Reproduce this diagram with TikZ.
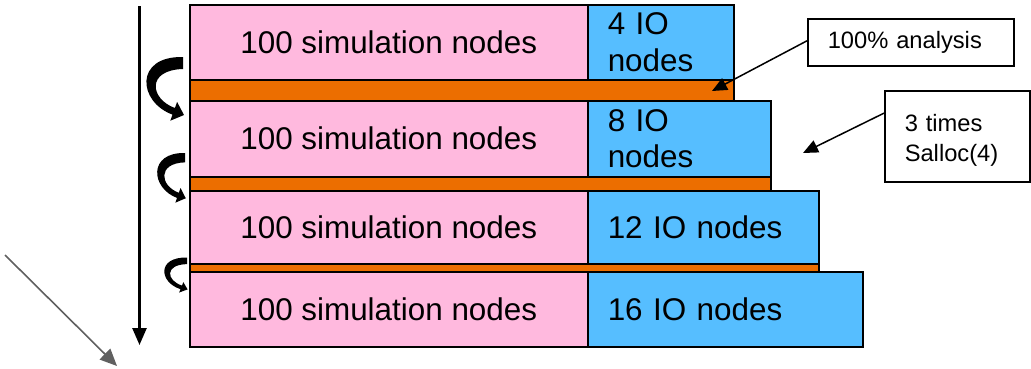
\documentclass[tikz,border=0pt]{standalone}
\usepackage{fontspec}
\setmainfont{Liberation Sans}
\usetikzlibrary{arrows.meta,calc}
\definecolor{simpink}{RGB}{255,185,222}
\definecolor{ioblue}{RGB}{86,190,255}
\definecolor{barorange}{RGB}{236,110,0}
\definecolor{arrowgray}{RGB}{96,96,96}
\begin{document}
\begin{tikzpicture}[x=1pt,y=-1pt,
  sim/.style={draw=black,line width=1.5pt,fill=simpink,anchor=north west,
    minimum width=398pt,minimum height=#1,inner sep=0pt,
    font=\fontsize{31.4}{36.5}\selectfont},
  io/.style={draw=black,line width=1.5pt,fill=ioblue,anchor=north west,
    inner xsep=20pt,inner ysep=0pt,align=left,
    font=\fontsize{31.4}{36.5}\selectfont},
  bar/.style={draw=black,line width=1.5pt,fill=barorange,anchor=north west,
    inner sep=0pt},
  ann/.style={draw=black,line width=1.5pt,fill=white,anchor=north west,
    inner xsep=20pt,inner ysep=0pt,align=left,
    font=\fontsize{23.7}{30}\selectfont},
  annarrow/.style={draw=black,line width=1.5pt,-{Triangle[length=15pt,width=13pt]}},
  mainarrow/.style={draw=black,line width=2.5pt,-{Triangle[length=17pt,width=14pt]}},
  grayarrow/.style={draw=arrowgray,line width=1.6pt,-{Triangle[length=17pt,width=15pt]}},
  curlarrow/.pic={
    \fill[black] (0,0) .. controls (-49,-1) and (-45,45) .. (-10.5,57.6)
      -- (-12.7,63.7) -- (1,58) -- (-5.9,44.9) -- (-8.1,51)
      .. controls (-33,42) and (-37,13) .. (0,12) -- cycle;
  }
]
\useasboundingbox (0,0) rectangle (1031,368);
% orange bars
\node[bar,minimum width=544pt,minimum height=21pt] (bar1) at (189,79) {};
\node[bar,minimum width=581pt,minimum height=14pt] (bar2) at (189,176) {};
\node[bar,minimum width=629pt,minimum height=8pt] (bar3) at (189,263) {};
% rows
\node[sim=75pt] (sim1) at (189,4) {100 simulation nodes};
\node[io,text width=106pt,minimum height=75pt] (io1) at (587,4) {4 IO\\nodes};
\node[sim=76pt] (sim2) at (189,100) {100 simulation nodes};
\node[io,text width=143pt,minimum height=76pt] (io2) at (587,100) {8 IO\\nodes};
\node[sim=73pt] (sim3) at (189,190) {100 simulation nodes};
\node[io,text width=191pt,minimum height=73pt] (io3) at (587,190) {12 IO nodes};
\node[sim=75pt] (sim4) at (189,271) {100 simulation nodes};
\node[io,text width=235pt,minimum height=75pt] (io4) at (587,271) {16 IO nodes};
% annotations
\node[ann,text width=166pt,minimum height=47pt] (ann1) at (807,18) {100\% analysis};
\node[ann,text width=105pt,minimum height=91pt,text depth=26pt] (ann2) at (884,90) {3 times\\Salloc(4)};
\coordinate (tip1) at (712,91);
\coordinate (tip2) at (803,153);
\draw[annarrow] ($(ann1.north west)!0.47!(ann1.south west)$) -- (tip1);
\draw[annarrow] ($(ann2.north west)!0.25!(ann2.south west)$) -- (tip2);
% time arrow
\coordinate (timetop) at (139.5,6);
\coordinate (timebot) at (139.5,345);
\draw[mainarrow] (timetop) -- (timebot);
% gray arrow
\coordinate (gstart) at (5,255);
\coordinate (gend) at (117,366);
\draw[grayarrow] (gstart) -- (gend);
% curved arrows
\pic at (183,57) {curlarrow};
\pic[xscale=0.76,yscale=0.78] at (185,153) {curlarrow};
\pic[xscale=0.62,yscale=0.55] at (187,257.5) {curlarrow};
\end{tikzpicture}
\end{document}
